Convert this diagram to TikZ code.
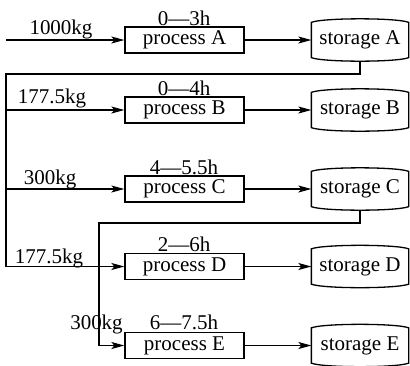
\documentclass[tikz,border=0pt]{standalone}
\usepackage{fontspec}
\setmainfont{Liberation Serif}
\usetikzlibrary{arrows.meta}
\begin{document}
\begin{tikzpicture}[x=1pt,y=-1pt, line width=1.3pt,
  font=\fontsize{21}{25}\selectfont,
  proc/.style={draw, minimum width=119pt, minimum height=26pt, inner sep=0pt},
  stor/.style={minimum width=96pt, minimum height=41pt, inner sep=0pt},
  lbl/.style={anchor=base, inner sep=0pt},
  arr/.style={-{Stealth[length=13pt,width=7pt,inset=3pt]}}]
\useasboundingbox (0,0) rectangle (410,365);

% process boxes
\node[proc] (pA) at (184.5,40)   {process A};
\node[proc] (pB) at (184.5,110)  {process B};
\node[proc] (pC) at (184.5,189)  {process C};
\node[proc] (pD) at (184.5,266.5){process D};
\node[proc] (pE) at (184.5,345.5){process E};

% storage nodes
\node[stor] (sA) at (360,40)   {storage A};
\node[stor] (sB) at (360,110)  {storage B};
\node[stor] (sC) at (360,189)  {storage C};
\node[stor] (sD) at (360,266.5){storage D};
\node[stor] (sE) at (360,345.5){storage E};

\foreach \n in {sA,sB,sC,sD,sE}
  \draw ([yshift=-3.5pt]\n.north west)
    .. controls ([xshift=12pt,yshift=1.2pt]\n.north west) and ([xshift=-12pt,yshift=1.2pt]\n.north east)
    .. ([yshift=-3.5pt]\n.north east)
    -- ([yshift=3.5pt]\n.south east)
    .. controls ([xshift=-12pt,yshift=-1.2pt]\n.south east) and ([xshift=12pt,yshift=-1.2pt]\n.south west)
    .. ([yshift=3.5pt]\n.south west) -- cycle;

% time labels
\node[lbl] (tA) at (184,25)  {0—3h};
\node[lbl] (tB) at (184,95)  {0—4h};
\node[lbl] (tC) at (184,174) {4—5.5h};
\node[lbl] (tD) at (184,251) {2—6h};
\node[lbl] (tE) at (184,329) {6—7.5h};

% weight labels
\node[lbl] (wA) at (61,34)    {1000kg};
\node[lbl] (wB) at (52,103)   {177.5kg};
\node[lbl] (wC) at (50,184)   {300kg};
\node[lbl] (wD) at (49,263)   {177.5kg};
\node[lbl] (wE) at (96.5,329) {300kg};

% connectors
\coordinate (in) at (6,40);
\draw[arr] (in) -- (pA.west);
\foreach \p/\s in {pA/sA,pB/sB,pC/sC,pD/sD,pE/sE}
  \draw[arr] (\p.east) -- (\s.west);

\coordinate (j1) at (6,74);
\draw[arr] (sA.south) |- (j1) |- (pD.west);
\draw[arr] (j1 |- pB.west) -- (pB.west);
\draw[arr] (j1 |- pC.west) -- (pC.west);

\coordinate (j2) at (99,223);
\draw[arr] (sC.south) |- (j2) |- (pE.west);
\end{tikzpicture}
\end{document}
